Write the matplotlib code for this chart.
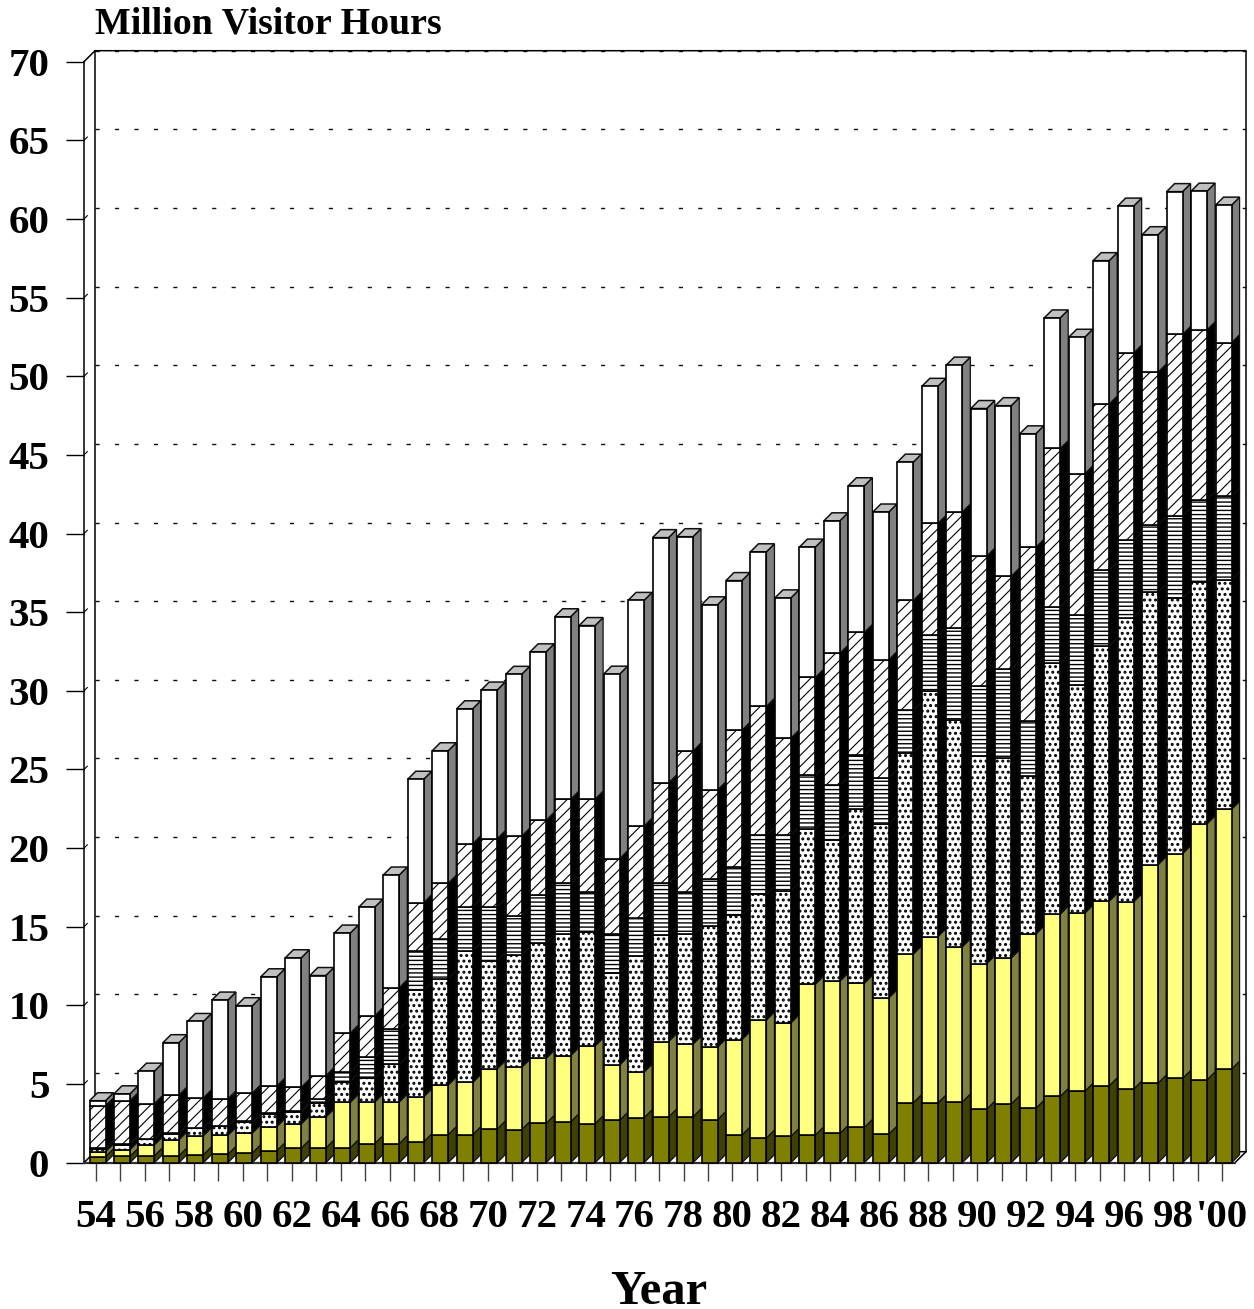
#stacked visitor hours bars with fake 3d depth

import numpy as np
from matplotlib import pyplot as plt

plt.rcParams['font.family'] = ['Liberation Serif', 'DejaVu Serif']
plt.rcParams['font.weight'] = 'bold'

tick_labels = ['54','','56','','58','','60','','62','','64','','66','','68','','70','','72','','74','','76','',
	'78','','80','','82','','84','','86','','88','','90','','92','','94','','96','','98','',"'00"]
y_ticks = np.arange(0, 71, 5)

olive = [0.38,0.40,0.44,0.44,0.51,0.53,0.62,0.76,0.93,0.93,0.95,1.21,1.21,1.33,1.78,1.78,2.14,2.10,2.50,2.59,2.48,2.69,2.86,2.90,
	2.92,2.73,1.76,1.57,1.67,1.76,1.86,2.24,1.82,3.81,3.79,3.86,3.41,3.73,3.45,4.21,4.53,4.89,4.68,5.06,5.36,5.27,5.95]
yellow = [0.32,0.43,0.70,1.02,1.21,1.21,1.27,1.54,1.54,1.97,2.89,2.65,2.65,2.86,3.16,3.32,3.83,3.96,4.13,4.21,4.94,3.52,2.90,4.80,
	4.62,4.62,6.07,7.50,7.22,9.59,9.68,9.17,8.66,9.45,10.58,9.87,9.25,9.29,11.08,11.59,11.33,11.73,11.90,13.89,14.29,16.28,16.52]
dots = [0.19,0.32,0.34,0.38,0.46,0.57,0.70,0.79,0.74,0.89,1.32,1.52,2.41,6.78,6.77,8.37,6.86,7.14,7.37,7.75,7.22,5.82,7.39,6.76,
	6.99,7.71,7.90,8.00,8.39,9.87,8.98,11.05,11.07,12.81,15.61,14.40,13.20,12.69,10.06,15.95,14.49,16.22,18.06,17.34,16.23,15.40,14.59]
stripes = [0.03,0.06,0.04,0.04,0.04,0.04,0.04,0.06,0.08,0.23,0.58,1.31,2.22,2.48,2.50,2.81,3.45,2.50,3.01,3.22,2.59,2.50,2.43,3.34,
	2.69,2.97,3.07,3.75,3.54,3.41,3.48,3.43,2.92,2.69,3.54,5.85,4.45,5.69,3.49,3.58,4.47,4.83,4.94,4.26,5.23,5.21,5.32]
diagonal = [2.70,2.73,2.24,2.43,1.91,1.72,1.80,1.73,1.51,1.51,2.51,2.65,2.64,3.09,3.56,4.00,4.32,5.06,4.76,5.34,5.89,4.80,5.83,6.35,
	8.96,5.67,8.70,8.20,6.18,6.23,8.39,7.83,7.52,6.99,7.12,7.39,8.26,5.89,11.04,10.08,8.98,10.57,11.90,9.72,11.56,10.80,9.76]
blank = [0.32,0.44,2.06,3.32,4.85,6.27,5.55,6.94,8.23,6.37,6.35,6.91,7.16,7.84,8.42,8.58,9.45,10.29,10.71,11.60,11.03,11.73,14.34,15.59,
	13.62,11.77,9.51,9.82,8.91,8.28,8.42,9.32,9.38,8.79,8.72,9.34,9.38,10.84,7.22,8.30,8.68,9.11,9.34,8.73,9.07,8.81,8.74]

series = (olive, yellow, dots, stripes, diagonal, blank)
fronts = ('#808000', '#ffff80', 'white', 'white', 'white', 'white')
sides = ('#404000', '#808040', 'black', 'black', 'black', '#808080')
hatches = (None, None, '...', '----', '///', None)
hatch_widths = (1, 1, 1.4, 1, 0.8, 1)

# pixel sizes of the picture, converted to data units below
W, H = 1254, 1309
px_x = 24.48
px_y = 15.73
bar_w = 16/px_x
bar_shift = 1.5/px_x
dep_x = 8/px_x
dep_y = 8/px_y
wall_x = 11/px_x
wall_y = 11/px_y

fig = plt.figure(figsize=(W/100, H/100), dpi=100)
ax = fig.add_axes([84/W, 1-1162.7/H, (1235-84)/W, (1162.7-61.7)/H])
ax.set_xlim(-12/px_x, 1139/px_x)
ax.set_ylim(0, 70)
ax.patch.set_visible(False)

# back wall and floor edges
x_l, x_r = ax.get_xlim()
ax.hlines(y_ticks[1:]+wall_y, x_l+wall_x, x_r+wall_x, colors='#101010', linewidth=1, linestyles=(0,(3,11)), zorder=1, clip_on=False)
ax.plot([x_l, x_l+wall_x, x_r+wall_x, x_r+wall_x, x_r], [70, 70+wall_y, 70+wall_y, wall_y, 0], color='black', lw=1.1, clip_on=False, zorder=1)
ax.plot([x_l, x_l+wall_x, x_r+wall_x], [0, wall_y, wall_y], color='black', lw=1.1, clip_on=False, zorder=1)
ax.plot([x_l+wall_x, x_l+wall_x], [wall_y, 70+wall_y], color='black', lw=1.1, clip_on=False, zorder=1)
for v in y_ticks[1:-1]:
	ax.plot([x_l, x_l+wall_x*0.3], [v, v+wall_y*0.3], color='black', lw=0.8, zorder=1)

# stacked bars, each layer with a side face
x = np.arange(len(olive))+bar_shift
bottom = np.zeros(len(olive))
for vals, front, side, hatch, hw in zip(series, fronts, sides, hatches, hatch_widths):
	vals = np.array(vals)
	plt.rcParams['hatch.linewidth'] = hw
	ax.bar(x, vals, bar_w, bottom=bottom, color=front, edgecolor='black', linewidth=1.2, hatch=hatch, zorder=3, clip_on=False)
	for xi, b, v in zip(x, bottom, vals):
		r = xi+bar_w/2
		ax.fill([r, r+dep_x, r+dep_x, r], [b, b+dep_y, b+v+dep_y, b+v], facecolor=side, edgecolor='#101010', linewidth=0.9, zorder=2.5, clip_on=False)
	bottom = bottom+vals

# top faces
for xi, t in zip(x, bottom):
	l, r = xi-bar_w/2, xi+bar_w/2
	ax.fill([l, l+dep_x, r+dep_x, r], [t, t+dep_y, t+dep_y, t], facecolor='#c0c0c0', edgecolor='#101010', linewidth=1.1, zorder=2.5, clip_on=False)

ax.spines['top'].set_visible(False)
ax.spines['right'].set_visible(False)
ax.spines['left'].set_linewidth(1.1)
ax.spines['bottom'].set_linewidth(1.6)
ax.spines['bottom'].set_color('#303030')
ax.set_xticks(np.arange(len(tick_labels)))
ax.set_xticklabels(tick_labels, fontsize=29.5, fontweight='bold')
ax.set_yticks(y_ticks)
ax.set_yticklabels([str(v) for v in y_ticks], fontsize=29.5, fontweight='bold')
ax.tick_params(axis='x', length=13, width=1, pad=13, color='#404040')
ax.tick_params(axis='y', length=13, width=1, pad=12, color='black')

fig.text(95/W, 1-34/H, 'Million Visitor Hours', fontsize=27.3, fontweight='bold', va='baseline')
fig.text(659/W, 1-1304/H, 'Year', fontsize=35, fontweight='bold', ha='center', va='baseline')

fig.savefig('out.png', dpi=100)
